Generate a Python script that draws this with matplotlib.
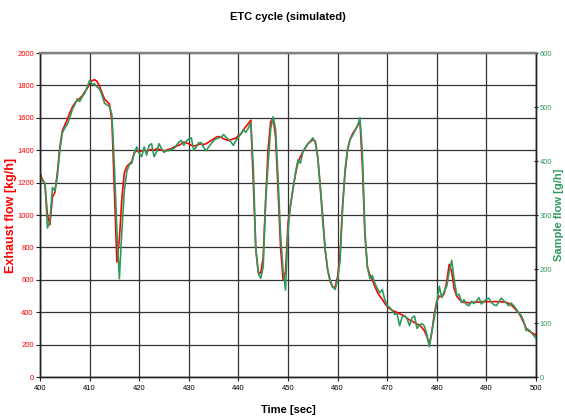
import numpy as np
import matplotlib.pyplot as plt

plt.rcParams['font.family'] = ['Liberation Sans', 'DejaVu Sans']

# time axis, 0.5 s steps
time = np.arange(400, 500.5, 0.5)

# exhaust flow [kg/h]
exhaust = [
    1260, 1220, 1190, 1000, 940, 1110, 1140, 1260, 1420, 1520,
    1555, 1590, 1630, 1665, 1690, 1705, 1720, 1735, 1760, 1780,
    1810, 1830, 1835, 1825, 1795, 1755, 1715, 1700, 1685, 1580,
    1140, 710, 850, 1100, 1260, 1300, 1315, 1330, 1385, 1395,
    1390, 1395, 1400, 1395, 1400, 1405, 1400, 1410, 1405, 1400,
    1395, 1400, 1405, 1410, 1420, 1425, 1430, 1440, 1450, 1445,
    1440, 1430, 1425, 1430, 1435, 1440, 1435, 1440, 1450, 1460,
    1470, 1480, 1485, 1480, 1470, 1465, 1460, 1465, 1470, 1475,
    1490, 1500, 1525, 1545, 1565, 1585, 1200, 790, 650, 640,
    740, 1100, 1410, 1575, 1600, 1480, 1150, 800, 600, 650,
    950, 1060, 1160, 1250, 1325, 1360, 1390, 1415, 1440, 1452,
    1465, 1455, 1360, 1180, 990, 780, 660, 590, 555, 555,
    620, 760, 1060, 1260, 1400, 1465, 1500, 1525, 1550, 1585,
    1300, 880, 680, 630, 600, 560, 525, 500, 480, 455,
    435, 422, 412, 405, 398, 390, 383, 375, 363, 352,
    345, 336, 328, 320, 305, 285, 250, 200, 280, 390,
    470, 500, 495, 515, 590, 695, 650, 545, 500, 480,
    468, 460, 460, 458, 460, 462, 463, 462, 465, 464,
    465, 465, 464, 466, 465, 465, 464, 463, 460, 455,
    445, 430, 412, 395, 370, 336, 302, 285, 276, 268,
    258,
]

# sample flow [g/h]
sample = [
    374, 363, 359, 276, 288, 351, 345, 372, 420, 452,
    461, 468, 480, 495, 504, 515, 510, 519, 525, 537,
    549, 542, 543, 537, 534, 522, 507, 504, 501, 486,
    390, 270, 182, 270, 345, 381, 393, 396, 414, 426,
    414, 408, 426, 411, 429, 432, 408, 417, 432, 423,
    416, 419, 419, 422, 423, 429, 435, 438, 429, 437,
    441, 443, 420, 426, 434, 434, 425, 419, 426, 432,
    438, 441, 443, 444, 449, 444, 440, 435, 429, 438,
    444, 450, 458, 453, 461, 471, 390, 240, 192, 183,
    204, 327, 396, 459, 482, 459, 366, 264, 198, 161,
    270, 318, 348, 378, 402, 396, 417, 425, 432, 437,
    443, 434, 405, 351, 288, 237, 198, 180, 167, 162,
    180, 216, 312, 384, 422, 440, 447, 456, 465, 480,
    414, 270, 204, 182, 188, 174, 164, 156, 162, 144,
    132, 129, 123, 116, 117, 95, 111, 114, 108, 95,
    110, 113, 90, 96, 99, 94, 78, 56, 84, 111,
    138, 168, 147, 159, 168, 195, 216, 180, 152, 153,
    138, 143, 134, 132, 140, 136, 141, 147, 135, 140,
    144, 146, 138, 134, 132, 139, 146, 141, 137, 132,
    137, 132, 126, 119, 114, 104, 86, 88, 83, 77,
    72,
]

red = '#ff0000'
green = '#2e9a5c'

fig = plt.figure(figsize=(5.65, 4.19), dpi=100)
ax = fig.add_axes([0.0708, 0.1002, 0.8779, 0.7733])
ax2 = ax.twinx()

ax.plot(time, exhaust, color=red, lw=1.2)
ax2.plot(time, sample, color=green, lw=1.2)

ax.set_xlim(400, 500)
ax.set_ylim(0, 2000)
ax2.set_ylim(0, 600)
ax.set_xticks(np.arange(400, 501, 10))
ax.set_yticks(np.arange(0, 2001, 200))
ax2.set_yticks(np.arange(0, 601, 100))

ax.grid(True, color='#333333', lw=0.9)
ax.set_axisbelow(True)

for a in (ax, ax2):
    a.spines['top'].set_color('#808080')
    a.spines['top'].set_linewidth(1.6)
    for s in ('left', 'right', 'bottom'):
        a.spines[s].set_linewidth(1.0)
        a.spines[s].set_color('#222222')

ax.tick_params(axis='y', colors='#222222', labelcolor=red, labelsize=5.5, length=3, pad=1.5, direction='out')
ax.tick_params(axis='x', colors='#222222', labelcolor='black', labelsize=5.5, length=3, pad=3, direction='out')
ax2.tick_params(axis='y', colors='#222222', labelcolor=green, labelsize=5.5, length=3, pad=1, direction='inout')

ax.set_title('ETC cycle (simulated)', fontsize=8, fontweight='bold', pad=24)
ax.set_xlabel('Time [sec]', fontsize=8, fontweight='bold', labelpad=9)
ax.set_ylabel('Exhaust flow [kg/h]', fontsize=9, fontweight='bold', color=red)
ax2.set_ylabel('Sample flow [g/h]', fontsize=8, fontweight='bold', color=green)
ax.yaxis.set_label_coords(-0.046, 0.5)
ax2.yaxis.set_label_coords(1.036, 0.5)

fig.savefig('out.png', dpi=100)
